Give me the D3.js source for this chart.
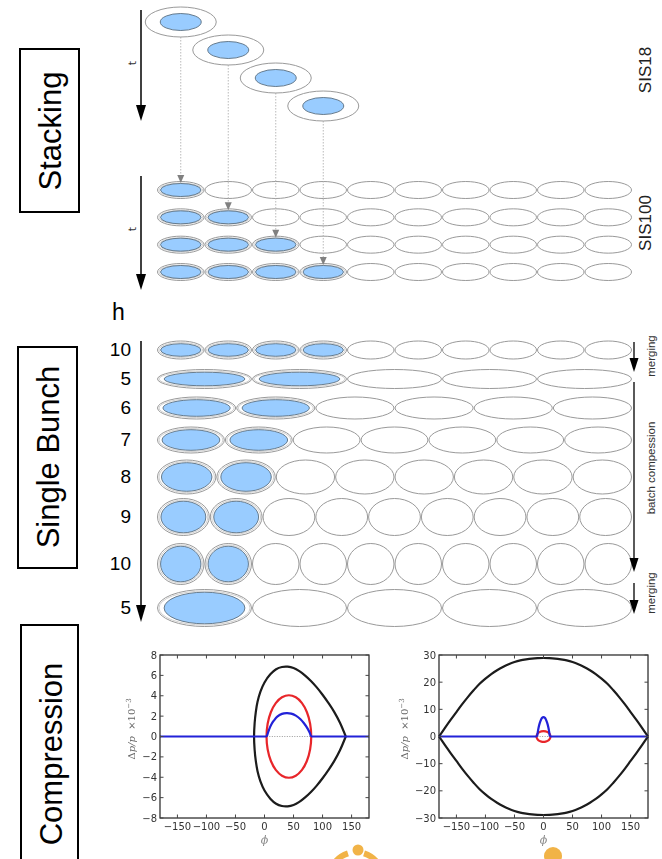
<!DOCTYPE html>
<html>
<head>
<meta charset="utf-8">
<script src="https://cdn.jsdelivr.net/npm/d3@7"></script>
<style>
  html, body { margin: 0; padding: 0; background: #fff; }
  svg { display: block; }
</style>
</head>
<body>
<svg id="fig" width="662" height="859"></svg>
<script>
// ---------------- data ----------------
const sectionTitles = ["Stacking", "Single Bunch", "Compression"];
const ringNames = ["SIS18", "SIS100"];
const sis18Cycles = [0, 1, 2, 3];            // SIS18 cycles, one bunch each
const sis100Harmonic = 10;                   // RF buckets in SIS100
const sis100Filled = [1, 2, 3, 4];           // occupied buckets after each transfer
const harmonics = [10, 5, 6, 7, 8, 9, 10, 5]; // harmonic number of each RF step
const filledBunches = [4, 2, 2, 2, 2, 2, 2, 1];
const stepNotes = ["merging", "batch compession", "merging"];

// phase-space contours (phi in degrees, dp/p in 1e-3), upper halves
const xTicks = [-150, -100, -50, 0, 50, 100, 150];
const leftYTicks = [-8, -6, -4, -2, 0, 2, 4, 6, 8];
const rightYTicks = [-30, -20, -10, 0, 10, 20, 30];

const leftSeparatrix = [[-18,0],[-17,1.3],[-15,2.4],[-12,3.4],[-7,4.4],[0,5.3],[10,6.1],[20,6.6],
  [30,6.82],[40,6.85],[50,6.72],[60,6.42],[70,5.98],[80,5.45],[90,4.82],[100,4.1],[110,3.3],
  [120,2.42],[130,1.35],[140,0]];
const leftBunch = [[3.5,0],[5.4,1.25],[10.9,2.38],[19.4,3.28],[30.1,3.85],[42,4.05],[53.9,3.85],
  [64.6,3.28],[73.1,2.38],[78.6,1.25],[80.5,0]];
const leftProfile = [[4,0],[8,0.7],[12,1.2],[16,1.55],[22,1.95],[30,2.22],[38,2.3],[46,2.25],
  [54,2.05],[62,1.7],[68,1.3],[74,0.8],[78,0.35],[80,0]];

const rightSeparatrix = [[-180,0],[-170,3.1],[-160,6.1],[-150,9.0],[-140,11.9],[-130,14.6],[-120,17.1],
  [-110,19.4],[-100,21.3],[-90,23.0],[-80,24.4],[-70,25.6],[-60,26.6],[-50,27.4],[-40,28.0],
  [-30,28.4],[-20,28.7],[-10,28.85],[0,28.9],[10,28.85],[20,28.7],[30,28.4],[40,28.0],[50,27.4],
  [60,26.6],[70,25.6],[80,24.4],[90,23.0],[100,21.3],[110,19.4],[120,17.1],[130,14.6],[140,11.9],
  [150,9.0],[160,6.1],[170,3.1],[180,0]];
const rightBunch = [[-12,0],[-11.4,0.62],[-9.7,1.18],[-7.05,1.62],[-3.7,1.9],[0,2.0],[3.7,1.9],
  [7.05,1.62],[9.7,1.18],[11.4,0.62],[12,0]];
const rightProfile = [[-11,0],[-10,1.4],[-8.5,3.2],[-6.5,4.9],[-4.5,6.1],[-2.5,6.85],[0,7.1],
  [2.5,6.85],[4.5,6.1],[6.5,4.9],[8.5,3.2],[10,1.4],[11,0]];

// ---------------- drawing ----------------
const W = 662, H = 859;
const svg = d3.select("#fig");
svg.append("rect").attr("width", W).attr("height", H).attr("fill", "#fff");

const defs = svg.append("defs");
defs.append("filter").attr("id", "soft").attr("x", "-5%").attr("y", "-5%").attr("width", "110%").attr("height", "110%")
  .append("feGaussianBlur").attr("stdDeviation", 0.6);

const SANS = "'Liberation Sans', Arial, Helvetica, sans-serif";
const FILL = "#99ccff";
const RING = "#9a9a9a";

function vArrow(g, x, y1, y2, o = {}) {
  const hw = o.hw ?? 5, hl = o.hl ?? 14, col = o.color ?? "#000";
  g.append("line").attr("x1", x).attr("x2", x).attr("y1", y1).attr("y2", y2 - hl + 1)
    .attr("stroke", o.lineColor ?? col).attr("stroke-width", o.width ?? 1.5)
    .attr("stroke-dasharray", o.dash ?? null);
  g.append("path").attr("d", `M${x - hw},${y2 - hl}L${x + hw},${y2 - hl}L${x},${y2}Z`).attr("fill", col);
}

function rotText(g, x, y, txt, size, o = {}) {
  return g.append("text").attr("transform", `translate(${x},${y}) rotate(-90)`)
    .attr("text-anchor", "middle").attr("font-family", o.family ?? SANS)
    .attr("font-size", size).attr("fill", o.fill ?? "#000").text(txt);
}

// bucket: outer ring plus optional blue bunch
function bucket(g, cx, cy, rx, ry, filled, inner) {
  g.append("ellipse").attr("cx", cx).attr("cy", cy).attr("rx", rx - 0.5).attr("ry", ry - 0.5)
    .attr("fill", "#fff").attr("stroke", RING).attr("stroke-width", 1);
  if (filled) {
    g.append("ellipse").attr("cx", cx).attr("cy", cy).attr("rx", rx - 2).attr("ry", ry - 2)
      .attr("fill", "none").attr("stroke", "#c4c4c4").attr("stroke-width", 0.8);
    g.append("ellipse").attr("cx", cx).attr("cy", cy).attr("rx", inner[0]).attr("ry", inner[1])
      .attr("fill", FILL).attr("stroke", "#5b6f80").attr("stroke-width", 0.9);
  }
}

// ----- section titles -----
const titleBoxes = [
  { x: 20, y: 49, w: 59, h: 163, tx: 61, ty: 131 },
  { x: 18, y: 347, w: 59, h: 221, tx: 59, ty: 457 },
  { x: 21, y: 625, w: 57, h: 262, tx: 62, ty: 754 }
];
const gTitles = svg.append("g");
sectionTitles.forEach((t, i) => {
  const b = titleBoxes[i];
  gTitles.append("rect").attr("x", b.x).attr("y", b.y).attr("width", b.w).attr("height", b.h)
    .attr("fill", "none").attr("stroke", "#000").attr("stroke-width", 2);
  rotText(gTitles, b.tx, b.ty, t, 31);
});

// common bucket scale across the ring circumference
const xRing = d3.scaleLinear().domain([0, 1]).range([157, 632]);

// ----- stacking -----
const gStack = svg.append("g");
const ySis18 = d3.scaleLinear().domain([0, 3]).range([22, 106]);
const ySis100 = d3.scaleLinear().domain([0, 3]).range([190, 272]);
const bw100 = (xRing(1) - xRing(0)) / sis100Harmonic;
const cx100 = i => xRing(0) + bw100 * (i + 0.5);

// time arrows
vArrow(gStack, 141, 10, 121, { hw: 5, hl: 16 });
rotText(gStack, 136, 63, "t", 11, { family: "'DejaVu Sans', sans-serif", fill: "#333" });
vArrow(gStack, 141, 176, 290, { hw: 5, hl: 16 });
rotText(gStack, 136, 229, "t", 11, { family: "'DejaVu Sans', sans-serif", fill: "#333" });

// SIS100 rows
sis100Filled.forEach((n, r) => {
  const cy = ySis100(r);
  d3.range(sis100Harmonic).forEach(i => bucket(gStack, cx100(i), cy, bw100 / 2, 9, i < n, [bw100 / 2 - 3.5, 6.5]));
});

// transfer lines from SIS18 to SIS100
sis18Cycles.forEach(c => {
  const x = cx100(c);
  vArrow(gStack, x, ySis18(c) + 15, ySis100(c) - 7, { hw: 3.5, hl: 8, color: "#808080", lineColor: "#a8a8a8", width: 0.8, dash: "1.5,1.5" });
});
// SIS18 bunches
sis18Cycles.forEach(c => {
  const x = cx100(c), y = ySis18(c);
  gStack.append("ellipse").attr("cx", x).attr("cy", y).attr("rx", 35.5).attr("ry", 15)
    .attr("fill", "#fff").attr("stroke", RING).attr("stroke-width", 1);
  gStack.append("ellipse").attr("cx", x).attr("cy", y).attr("rx", 20.5).attr("ry", 8.5)
    .attr("fill", FILL).attr("stroke", "#5b6f80").attr("stroke-width", 0.9);
});
rotText(gStack, 651, 70, ringNames[0], 17, { fill: "#222" });
rotText(gStack, 651, 223, ringNames[1], 17, { fill: "#222" });

// ----- single bunch -----
const gSB = svg.append("g");
const rowIdx = d3.range(harmonics.length);
const yRow = d3.scaleOrdinal().domain(rowIdx).range([350, 379, 408, 440, 477, 517, 564, 608]);
const ryRow = d3.scaleOrdinal().domain(rowIdx).range([9.5, 10, 11.5, 13.5, 17.5, 19, 21, 19]);

gSB.append("text").attr("x", 112).attr("y", 320).attr("font-family", SANS).attr("font-size", 23).text("h");
vArrow(gSB, 141, 341, 622, { hw: 5, hl: 17 });

rowIdx.forEach(r => {
  const h = harmonics[r], cy = yRow(r), ry = ryRow(r);
  const bw = (xRing(1) - xRing(0)) / h;
  d3.range(h).forEach(i => {
    const cx = xRing(0) + bw * (i + 0.5);
    bucket(gSB, cx, cy, bw / 2, ry, i < filledBunches[r], [bw / 2 * 0.85, ry - 3.2]);
  });
  gSB.append("text").attr("x", 131).attr("y", cy + 6).attr("text-anchor", "end")
    .attr("font-family", SANS).attr("font-size", 19).text(h);
});

// RF manipulation notes: arrow span and text centre
const noteArrows = [[342, 372], [382, 572], [583, 614]];
const noteCentres = [356, 468, 593];
stepNotes.forEach((t, k) => {
  const [a, b] = noteArrows[k];
  vArrow(gSB, 634, a, b, { hw: 4.5, hl: 14, width: 1.3 });
  rotText(gSB, 655, noteCentres[k], t, 11.5, { fill: "#333" });
});

// ----- compression: longitudinal phase space -----
function phasePlot(cfg) {
  const g = svg.append("g").attr("filter", "url(#soft)");
  const top = 655, bottom = 818;
  const x = d3.scaleLinear().domain([-180, 180]).range([cfg.x0, cfg.x1]);
  const y = d3.scaleLinear().domain(cfg.yDomain).range([bottom, top]);
  const path = (pts, curve) => d3.line().x(d => x(d[0])).y(d => y(d[1])).curve(curve)(pts);
  const cr = d3.curveCatmullRom.alpha(0.5);

  g.append("rect").attr("x", cfg.x0).attr("y", top).attr("width", cfg.x1 - cfg.x0).attr("height", bottom - top)
    .attr("fill", "#fff");

  const prof = cfg.profile;
  g.append("line").attr("x1", x(prof[0][0])).attr("x2", x(prof[prof.length - 1][0]))
    .attr("y1", y(0)).attr("y2", y(0)).attr("stroke", "#999").attr("stroke-width", 1).attr("stroke-dasharray", "1,1.5");

  const mirror = pts => pts.map(d => [d[0], -d[1]]);
  if (cfg.sepClosedLeft) {
    const up = cfg.separatrix.slice().reverse();
    const lo = mirror(cfg.separatrix).slice(1);
    g.append("path").attr("d", path(up.concat(lo), cr))
      .attr("fill", "none").attr("stroke", "#1a1a1a").attr("stroke-width", 2.2);
  } else {
    [cfg.separatrix, mirror(cfg.separatrix)].forEach(p => {
      g.append("path").attr("d", path(p, cr))
        .attr("fill", "none").attr("stroke", "#1a1a1a").attr("stroke-width", 2.2);
    });
  }
  const bunchLoop = cfg.bunch.concat(mirror(cfg.bunch).reverse().slice(1, -1));
  g.append("path").attr("d", path(bunchLoop, d3.curveCatmullRomClosed.alpha(0.5)))
    .attr("fill", "none").attr("stroke", "#e8262a").attr("stroke-width", 2.2);

  const blue = "#2020d8";
  [[[-180, 0], prof[0]], [prof[prof.length - 1], [180, 0]]].forEach(seg => {
    g.append("path").attr("d", path(seg, d3.curveLinear))
      .attr("stroke", blue).attr("stroke-width", 2.2).attr("fill", "none");
  });
  g.append("path").attr("d", path(prof, cr))
    .attr("stroke", blue).attr("stroke-width", 2.2).attr("fill", "none");

  // frame and inward ticks
  g.append("rect").attr("x", cfg.x0).attr("y", top).attr("width", cfg.x1 - cfg.x0).attr("height", bottom - top)
    .attr("fill", "none").attr("stroke", "#222").attr("stroke-width", 1.2);
  const tk = 3.5;
  const fmt = t => d3.format("d")(t).replace("-", "\u2212");
  xTicks.forEach(t => {
    g.append("line").attr("x1", x(t)).attr("x2", x(t)).attr("y1", bottom).attr("y2", bottom - tk).attr("stroke", "#444");
    g.append("line").attr("x1", x(t)).attr("x2", x(t)).attr("y1", top).attr("y2", top + tk).attr("stroke", "#444");
    g.append("text").attr("x", x(t)).attr("y", bottom + 12).attr("text-anchor", "middle")
      .attr("font-family", "'DejaVu Sans', sans-serif").attr("font-size", 10).attr("fill", "#333").text(fmt(t));
  });
  cfg.yTicks.forEach(t => {
    g.append("line").attr("x1", cfg.x0).attr("x2", cfg.x0 + tk).attr("y1", y(t)).attr("y2", y(t)).attr("stroke", "#444");
    g.append("line").attr("x1", cfg.x1).attr("x2", cfg.x1 - tk).attr("y1", y(t)).attr("y2", y(t)).attr("stroke", "#444");
    g.append("text").attr("x", cfg.x0 - 3).attr("y", y(t) + 3.5).attr("text-anchor", "end")
      .attr("font-family", "'DejaVu Sans', sans-serif").attr("font-size", 10).attr("fill", "#333").text(fmt(t));
  });

  // axis labels
  const lab = g.append("text").attr("transform", `translate(${cfg.x0 - cfg.labelOffset},729) rotate(-90)`)
    .attr("text-anchor", "middle").attr("font-family", "'DejaVu Serif', serif").attr("font-size", 10).attr("fill", "#666");
  lab.append("tspan").text("\u0394");
  lab.append("tspan").attr("font-style", "italic").text("p/p");
  lab.append("tspan").text("\u00a0\u00a0\u00d710");
  lab.append("tspan").attr("dy", -4).attr("font-size", 7).text("\u22123");
  g.append("text").attr("x", (cfg.x0 + cfg.x1) / 2).attr("y", 844).attr("text-anchor", "middle")
    .attr("font-family", "'DejaVu Serif', serif").attr("font-style", "italic").attr("font-size", 11).attr("fill", "#888").text("\u03d5");
}

phasePlot({ x0: 160, x1: 369, yDomain: [-8, 8], yTicks: leftYTicks, labelOffset: 25,
  separatrix: leftSeparatrix, bunch: leftBunch, profile: leftProfile, sepClosedLeft: true });
phasePlot({ x0: 439, x1: 648, yDomain: [-30, 30], yTicks: rightYTicks, labelOffset: 31,
  separatrix: rightSeparatrix, bunch: rightBunch, profile: rightProfile, sepClosedLeft: false });

// ----- footer ornaments -----
const gOrn = svg.append("g").attr("fill", "#f1b347");
const ringArc = d3.arc().innerRadius(23).outerRadius(29);
[[-72, -18], [18, 72]].forEach(([a0, a1]) => {
  gOrn.append("path").attr("transform", "translate(356,878)")
    .attr("d", ringArc({ startAngle: a0 * Math.PI / 180, endAngle: a1 * Math.PI / 180 }));
});
gOrn.append("circle").attr("cx", 358).attr("cy", 850).attr("r", 5.5);
gOrn.append("circle").attr("cx", 553).attr("cy", 856).attr("r", 9);
</script>
</body>
</html>
